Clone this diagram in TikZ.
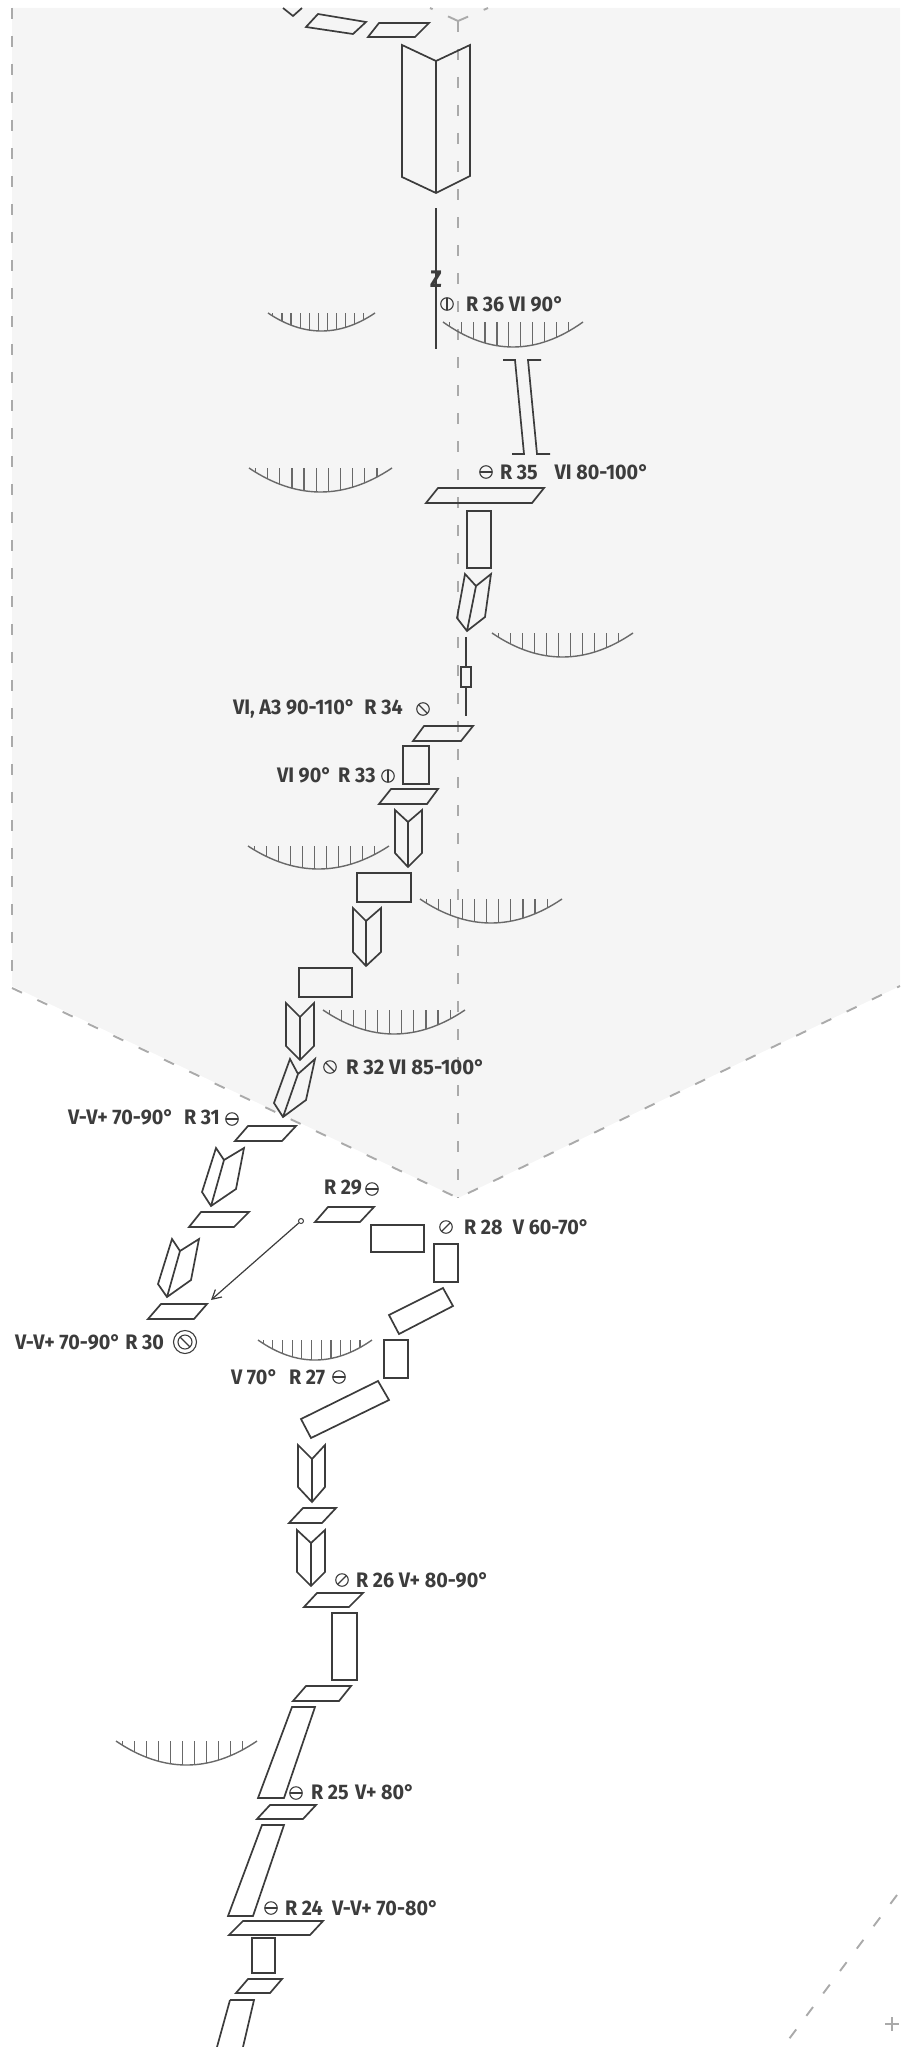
\documentclass[tikz,border=0pt]{standalone}
\usepackage{fontspec}
\setmainfont{Fira Sans}
\usetikzlibrary{arrows.meta}
\definecolor{myink}{RGB}{60,60,60}
\definecolor{myhatch}{RGB}{105,105,105}
\definecolor{mydash}{RGB}{170,170,170}
\definecolor{myband}{RGB}{245,245,245}
\tikzset{
  routepic/.style={x=1pt,y=-1pt}
  ,part/.style={draw=myink,line width=1.7pt,line join=miter}
  ,guide/.style={draw=mydash,line width=1.9pt,dash pattern=on 11pt off 17pt}
  ,grade/.style={anchor=west,inner sep=0pt,outer sep=0pt,text=myink
    ,font=\bfseries\fontsize{21}{21}\selectfont,xscale=.94}
  ,sym/.style={circle,draw=myink,line width=1.1pt,minimum size=12.5pt,inner sep=0pt}
  ,symh/.style={sym,path picture={\draw[myink,line width=1.1pt]
    (path picture bounding box.west) -- (path picture bounding box.east);}}
  ,symv/.style={sym,path picture={\draw[myink,line width=1.1pt]
    (path picture bounding box.north) -- (path picture bounding box.south);}}
  ,syms/.style={sym,path picture={\draw[myink,line width=1.1pt]
    (path picture bounding box.south west) -- (path picture bounding box.north east);}}
  ,symb/.style={sym,path picture={\draw[myink,line width=1.1pt]
    (path picture bounding box.north west) -- (path picture bounding box.south east);}}
}
\newcommand\bowl[4]{
  \draw[myhatch,line width=1.4pt] (#1,#3)
    .. controls ({#1+(#2-#1)/3},{#3+(#4-#3)*4/3}) and ({#2-(#2-#1)/3},{#3+(#4-#3)*4/3}) .. (#2,#3);
  \foreach \u in {.045,.13,...,.96}{
    \draw[myhatch,line width=1.2pt] ({#1+\u*(#2-#1)},#3)
      -- ({#1+\u*(#2-#1)},{#3+(#4-#3)*4*\u*(1-\u)});
  }
}

\begin{document}
\begin{tikzpicture}[routepic]
    \useasboundingbox (0,0) rectangle (900,2047);
    % band behind the route
    \fill[myband] (12,8) -- (900,8) -- (900,986) -- (458,1198) -- (12,986) -- cycle;
    \draw[guide] (12,8) -- (12,986);
    \draw[guide] (12,988) -- (458,1198) -- (900,986);
    \draw[guide] (458,21) -- (458,1198);
    \draw[guide] (458,21) -- (430,8);
    \draw[guide] (458,21) -- (488,8);
    \draw[guide] (897,1895) -- (783,2047);

    % hatched bowls
    \bowl{268}{375}{313}{331}
    \bowl{443}{583}{322}{347}
    \bowl{249}{392}{468}{492}
    \bowl{492}{633}{633}{657}
    \bowl{248}{389}{846}{869}
    \bowl{420}{562}{899}{923}
    \bowl{323}{465}{1010}{1034}
    \bowl{258}{372}{1340}{1360}
    \bowl{116}{257}{1741}{1765}

    % parallelograms and tilted boxes
    \foreach \a/\b/\c/\d/\e/\f/\g/\h in {
      306/27/318/14/366/22/353/34,
      368/37/379/23/429/23/415/37,
      426/503/438/488/544/488/532/503,
      413/741/424/726/473/726/461/741,
      379/804/391/789/438/789/427/804,
      235/1141/248/1126/296/1126/282/1141,
      189/1227/201/1212/249/1212/234/1227,
      148/1319/161/1304/207/1304/194/1319,
      315/1222/328/1207/374/1207/360/1222,
      389/1315/443/1288/453/1306/399/1334,
      301/1419/378/1381/389/1400/311/1438,
      289/1523/303/1508/336/1508/322/1523,
      304/1607/317/1593/363/1593/349/1607,
      293/1701/306/1686/351/1686/339/1701,
      292/1707/315/1707/284/1798/258/1798,
      257/1819/270/1805/316/1805/303/1819,
      262/1825/284/1825/253/1916/228/1916,
      229/1935/243/1921/323/1921/310/1935,
      236/1993/248/1979/282/1979/270/1993
    }{
      \draw[part] (\a,\b) -- (\c,\d) -- (\e,\f) -- (\g,\h) -- cycle;
    }

    % upright boxes
    \foreach \a/\b/\c/\d in {
      467/511/491/568,
      461/667/471/687,
      403/746/429/784,
      357/873/411/902,
      299/968/352/997,
      371/1225/424/1252,
      434/1244/458/1282,
      384/1340/408/1378,
      332/1613/357/1680,
      252/1938/275/1973
    }{
      \draw[part] (\a,\b) rectangle (\c,\d);
    }

    % chevrons: tip, notch, tip, corner, point, corner
    \foreach \a/\b/\c/\d/\e/\f/\g/\h/\i/\j/\k/\l in {
      402/45/436/61/470/45/470/176/436/193/402/177,
      465/574/476/586/491/574/485/617/467/631/457/618,
      395/810/408/822/422/810/422/853/408/867/395/853,
      353/908/366/921/381/908/381/952/366/966/353/952,
      286/1003/300/1017/314/1003/314/1046/300/1060/286/1046,
      290/1059/298/1074/315/1059/306/1100/283/1117/274/1103,
      216/1148/224/1160/244/1148/236/1189/211/1206/202/1192,
      172/1239/180/1251/199/1239/191/1280/167/1297/158/1284,
      298/1445/312/1459/325/1445/325/1487/312/1502/298/1487,
      297/1530/311/1543/325/1530/325/1572/311/1586/297/1572
    }{
      \draw[part] (\a,\b) -- (\c,\d) -- (\e,\f) -- (\g,\h) -- (\i,\j) -- (\k,\l) -- cycle
        (\c,\d) -- (\i,\j);
    }
    \draw[part] (283,8) -- (293,16) -- (302,8);
    \draw[part] (230,2000) -- (254,2000) -- (243,2047) (230,2000) -- (217,2047);

    % clamp and rod
    \draw[part] (436,208) -- (436,349);
    \draw[part] (503,360) -- (515,360) -- (524,454) -- (512,454);
    \draw[part] (541,360) -- (528,360) -- (537,454) -- (550,454);
    \draw[part,line width=2.2pt] (466,637) -- (466,667) (466,687) -- (466,716);

    % labels
    \node[anchor=center,inner sep=0pt,text=myink,font=\bfseries\fontsize{24}{24}\selectfont,xscale=.9] (zmark) at (436,279) {Z};
    \node[symv] (s36) at (447,304) {};
    \node[grade] (r36) at (466,304) {R 36 VI 90°};
    \node[symh] (s35) at (486,472) {};
    \node[grade] (r35) at (500,472) {R 35\hspace{18pt}VI 80-100°};
    \node[grade] (r34) at (233,709) {VI, A3 90-110°\hspace{10pt}R 34};
    \node[symb] (s34) at (423,709) {};
    \node[grade] (r33) at (277,775) {VI 90°\hspace{7pt}R 33};
    \node[symv] (s33) at (388,776) {};
    \node[symb] (s32) at (330,1067) {};
    \node[grade,xscale=1.03] (r32) at (346,1067) {R 32 VI 85-100°};
    \node[grade] (r31) at (68,1117) {V-V+ 70-90°\hspace{11pt}R 31};
    \node[symh] (s31) at (232,1119) {};
    \node[grade] (r29) at (324,1188) {R 29};
    \node[symh] (s29) at (372,1189) {};
    \node[syms] (s28) at (446,1227) {};
    \node[grade] (r28) at (464,1227) {R 28\hspace{11pt}V 60-70°};
    \node[grade] (r30) at (15,1342) {V-V+ 70-90° R 30};
    \node[symb,minimum size=14pt] (s30) at (185,1342) {};
    \node[sym,minimum size=23pt] (s30o) at (185,1342) {};
    \node[grade] (r27) at (231,1377) {V 70°\hspace{12pt}R 27};
    \node[symh] (s27) at (339,1377) {};
    \node[syms] (s26) at (342,1580) {};
    \node[grade] (r26) at (356,1580) {R 26 V+ 80-90°};
    \node[symh] (s25) at (296,1793) {};
    \node[grade] (r25) at (311,1792) {R 25\hspace{7pt}V+ 80°};
    \node[symh] (s24) at (271,1908) {};
    \node[grade] (r24) at (285,1908) {R 24\hspace{10pt}V-V+ 70-80°};

    % swing from R 29 back to R 30
    \node[circle,draw=myink,line width=1pt,minimum size=5pt,inner sep=0pt] (swingstart) at (301,1221) {};
    \coordinate (swingend) at (211,1300);
    \draw[myink,line width=1.2pt,-{Straight Barb[length=9pt,width=10pt]}] (swingstart) -- (swingend);

    % corner mark
    \node[inner sep=0pt,minimum size=14pt,path picture={\draw[mydash,line width=1.6pt]
      (path picture bounding box.west) -- (path picture bounding box.east)
      (path picture bounding box.north) -- (path picture bounding box.south);}] (crossmark) at (892,2024) {};
  \end{tikzpicture}
\end{document}
